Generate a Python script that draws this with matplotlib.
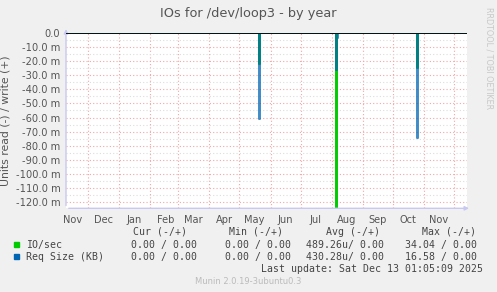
import numpy as np
import pandas as pd
import matplotlib
matplotlib.use("Agg")
import matplotlib.pyplot as plt
import matplotlib.dates as mdates
from matplotlib.ticker import FuncFormatter, MultipleLocator

# data (units/sec, read side is negative)
start, end = "2024-11-09", "2025-12-14"
spike_dates = ["2025-05-21", "2025-08-06", "2025-08-07", "2025-10-26"]
io_read = [-0.022, -0.500, 0.0, -0.025]
req_read = [-0.061, -0.0265, -0.003, -0.0745]

legend_names = ["IO/sec", "Req Size (KB)"]
legend_colors = ["#00CC00", "#0066B3"]
cur = ["0.00 / 0.00", "0.00 / 0.00"]
mins = ["0.00 / 0.00", "0.00 / 0.00"]
avgs = ["489.26u/ 0.00", "430.28u/ 0.00"]
maxs = ["34.04 / 0.00", "16.58 / 0.00"]

days = pd.date_range(start, end, freq="D")
io = pd.Series(0.0, index=days)
req = pd.Series(0.0, index=days)
for d, a, b in zip(spike_dates, io_read, req_read):
    io[pd.Timestamp(d)] = a
    req[pd.Timestamp(d)] = b

W, H = 497, 292
fig = plt.figure(figsize=(W / 100, H / 100), dpi=100, facecolor="#F0F0F0")
ax = fig.add_axes([66 / W, (H - 208.3) / H, (467 - 66) / W, (208.3 - 33.3) / H])
ax.set_facecolor("white")

ax.plot(io.index, io.values, color=legend_colors[0], lw=1.4, drawstyle="steps-mid", zorder=3)
ax.plot(req.index, req.values, color=legend_colors[1], lw=1.4, alpha=0.75,
        drawstyle="steps-mid", zorder=4)
ax.axhline(0, color="black", lw=1.2, zorder=5)

ax.set_xlim(pd.Timestamp(start), pd.Timestamp(end))
ax.set_ylim(-0.1247, 0)

# grid
ax.xaxis.set_major_locator(mdates.MonthLocator())
ax.xaxis.set_major_formatter(plt.NullFormatter())
ax.xaxis.set_minor_locator(mdates.MonthLocator(bymonthday=16))
ax.xaxis.set_minor_formatter(mdates.DateFormatter("%b"))
ax.yaxis.set_major_locator(MultipleLocator(0.01))
ax.yaxis.set_minor_locator(MultipleLocator(0.005))
ax.yaxis.set_major_formatter(FuncFormatter(
    lambda v, p: "0.0" if abs(v) < 1e-9 else f"{v * 1000:.1f} m"))
ax.grid(True, which="minor", axis="y", color="#DDDDDD", ls=(0, (1, 2)), lw=0.8)
ax.grid(True, which="major", axis="y", color="#F4A6A6", ls=(0, (1, 2)), lw=0.8)
ax.grid(True, which="major", axis="x", color="#F4A6A6", ls=(0, (1, 2)), lw=0.8)

ax.tick_params(which="both", length=0, labelsize=7.1, labelcolor="#555555", pad=4)
ax.tick_params(axis="x", which="minor", pad=4.5)
for s in ax.spines.values():
    s.set_visible(False)

ax.set_ylabel("Units read (-) / write (+)", fontsize=7.8, color="#555555")
ax.yaxis.set_label_coords(-56 / (467 - 66), 0.5)

# axis arrows
ax.annotate("", xy=(0, 1.04), xytext=(0, 0), xycoords="axes fraction",
            arrowprops=dict(arrowstyle="-|>", color="#C8C8F0", lw=1, mutation_scale=6),
            annotation_clip=False)
ax.annotate("", xy=(1.012, 0), xytext=(0, 0), xycoords="axes fraction",
            arrowprops=dict(arrowstyle="-|>", color="#C8C8F0", lw=1, mutation_scale=6),
            annotation_clip=False)

fig.text(248 / W, 1 - 13 / H, "IOs for /dev/loop3 - by year", ha="center", va="center",
         fontsize=9.3, color="#555555")
fig.text(489 / W, 1 - 58 / H, "RRDTOOL / TOBI OETIKER", rotation=270, ha="center",
         va="center", fontsize=5.8, color="#C8C8C8")

mono = dict(family="DejaVu Sans Mono", fontsize=7.1, color="#444444", va="center")
hy = 1 - 232 / H
for x, t in [(187, "Cur (-/+)"), (283, "Min (-/+)"), (380, "Avg (-/+)"), (476, "Max (-/+)")]:
    fig.text(x / W, hy, t, ha="right", **mono)
for i, y in enumerate([244.7, 256.7]):
    fy = 1 - y / H
    fig.patches.append(plt.Rectangle((14 / W, fy - 2.5 / H), 5 / W, 5 / H,
                                     color=legend_colors[i], transform=fig.transFigure))
    fig.text(26.5 / W, fy, legend_names[i], ha="left", **mono)
    fig.text(197 / W, fy, cur[i], ha="right", **mono)
    fig.text(291 / W, fy, mins[i], ha="right", **mono)
    fig.text(384 / W, fy, avgs[i], ha="right", **mono)
    fig.text(477 / W, fy, maxs[i], ha="right", **mono)
fig.text(483 / W, 1 - 268.7 / H, "Last update: Sat Dec 13 01:05:09 2025", ha="right", **mono)
fig.text(248 / W, 1 - 281 / H, "Munin 2.0.19-3ubuntu0.3", ha="center", va="center",
         fontsize=6, color="#BBBBBB")

fig.savefig("out.png", dpi=100, facecolor=fig.get_facecolor())
